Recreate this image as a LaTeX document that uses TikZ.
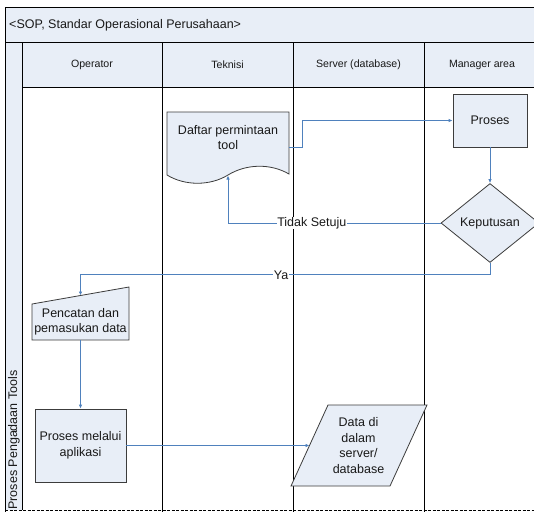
\documentclass[tikz,border=0pt]{standalone}
\usepackage{fontspec}
\setmainfont{Liberation Sans}
\usetikzlibrary{shapes.geometric,arrows.meta}
\definecolor{lanefill}{RGB}{232,238,247}
\definecolor{flowblue}{RGB}{79,129,189}
\definecolor{edgegray}{RGB}{60,60,60}
\begin{document}
\begin{tikzpicture}[x=1pt,y=-1pt,
  lane/.style={draw=black,line width=0.9pt},
  shapebox/.style={draw=edgegray,fill=lanefill,line width=0.8pt},
  body/.style={font=\fontsize{12.5}{15.5}\selectfont,align=center,text=black!90},
  head/.style={font=\fontsize{10.6}{12}\selectfont,text=black!90},
  flow/.style={draw=flowblue,line width=0.9pt,-{Latex[length=4pt,width=3.5pt]}},
  flowlabel/.style={body,fill=white,inner sep=0.6pt}
]
\useasboundingbox (0,0) rectangle (534,512);
\begin{scope}
\clip (0,0) rectangle (534,512);
% pool and lanes
\fill[white] (5,7) rectangle (560,510);
\fill[lanefill] (5,7) rectangle (560,42);
\fill[lanefill] (5,42) rectangle (22,510);
\fill[lanefill] (22,42) rectangle (560,87);
\draw[lane] (5,7) -- (560,7);
\draw[lane] (5,42) -- (560,42);
\draw[lane] (22,87) -- (560,87);
\draw[lane] (5,7) -- (5,512);
\draw[lane] (22,42) -- (22,510);
\draw[lane] (162,42) -- (162,512);
\draw[lane] (293,42) -- (293,512);
\draw[lane] (424,42) -- (424,512);
\draw[black,line width=0.9pt,dash pattern=on 3pt off 1.5pt] (5,510) -- (560,510);

\node[body,anchor=west,inner sep=0] (title) at (9,25) {<SOP, Standar Operasional Perusahaan>};
\node[body,rotate=90,inner sep=0] (pool) at (14,440) {Proses Pengadaan Tools};
\node[head] (hOp) at (92,64.5) {Operator};
\node[head] (hTek) at (227.5,64.5) {Teknisi};
\node[head] (hSrv) at (358.5,64.5) {Server (database)};
\node[head] (hMgr) at (482,64.5) {Manager area};

% document shape
\path[shapebox] (167,112) -- (289,112) -- (289,174)
  .. controls (270,163) and (246,164) .. (228,175)
  .. controls (210,186) and (185,186) .. (167,175) -- cycle;
\node[body] (doc) at (228,137.5) {Daftar permintaan\\tool};
\coordinate (docR) at (289,147);
\coordinate (docB) at (228,175.5);

% Proses
\node[shapebox,body,minimum width=74pt,minimum height=53pt,inner sep=0] (proses) at (490,120.5) {Proses};

% Keputusan
\node[shapebox,body,diamond,minimum width=98pt,minimum height=79pt,inner sep=0] (kep) at (490,223) {Keputusan};

% manual input
\path[shapebox] (32,304) -- (129,287) -- (129,340) -- (32,340) -- cycle;
\node[body] (pencatan) at (80.5,322) {Pencatan dan\\pemasukan data};
\coordinate (pcTop) at (80.5,295.5);
\coordinate (pcBot) at (80.5,340);

% Proses melalui aplikasi
\node[shapebox,body,minimum width=91pt,minimum height=73pt,inner sep=0] (pm) at (80.5,445.5) {Proses melalui\\aplikasi};

% parallelogram data
\path[shapebox] (328,405) -- (427,405) -- (390,486) -- (291,486) -- cycle;
\node[body] (data) at (358.5,445.5) {Data di\\dalam\\server/\\database};
\coordinate (dbL) at (309.5,445.5);

% connectors
\draw[flow] (docR) -- ++(13,0) |- (proses.west);
\draw[flow] (proses.south) -- (kep.north);
\draw[flow] (kep.west) -| (docB) node[flowlabel,pos=0.303] {Tidak Setuju};
\draw[flow] (kep.south) -- ++(0,12) -| (pcTop) node[flowlabel,pos=0.255] {Ya};
\draw[flow] (pcBot) -- (pm.north);
\draw[flow] (pm.east) -- (dbL);
\end{scope}
\end{tikzpicture}
\end{document}
